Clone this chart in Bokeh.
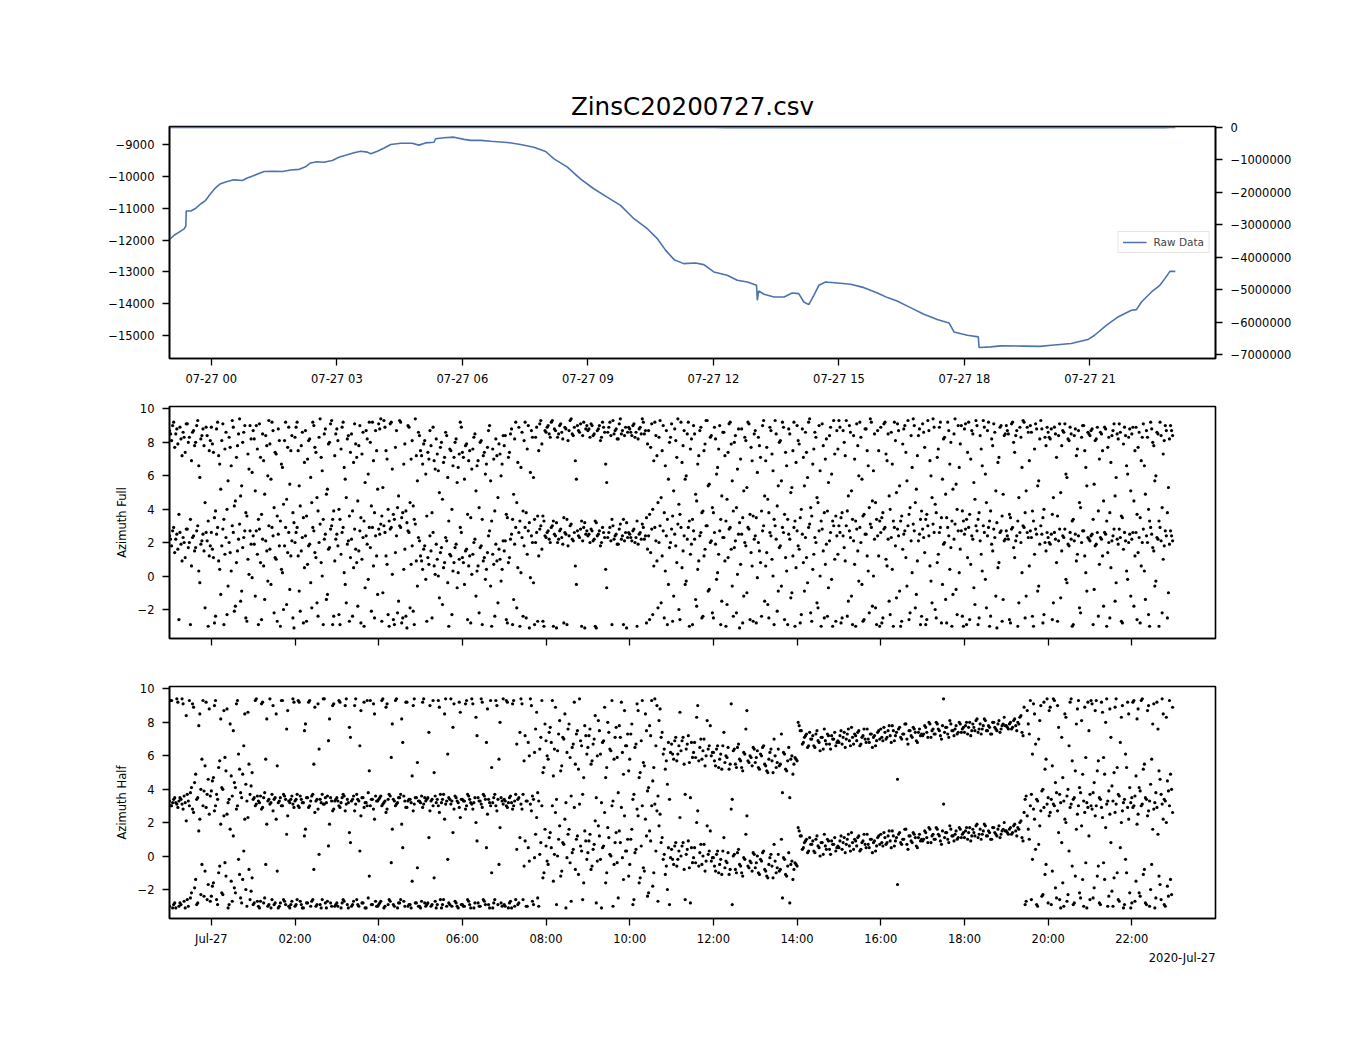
import numpy as np
from bokeh.plotting import figure
from bokeh.models import Range1d, LinearAxis, FixedTicker, Title
from bokeh.layouts import column
from bokeh.embed import file_html
from bokeh.resources import INLINE

# ---------------- data ----------------
TITLE = "ZinsC20200727.csv"
DATE_LABEL = "2020-Jul-27"
DAY0 = np.datetime64("2020-07-27T00:00:00")

# Raw data line: time in hours relative to 2020-07-27 00:00, value
raw_hours = [-1.01, -0.89, -0.77, -0.65, -0.61, -0.60, -0.49, -0.37, -0.25, -0.14,
             -0.02, 0.10, 0.22, 0.38, 0.54, 0.74, 0.86, 1.02, 1.26, 1.50,
             1.70, 1.90, 2.10, 2.25, 2.37, 2.53, 2.69, 2.89, 3.05, 3.21,
             3.41, 3.57, 3.73, 3.81, 3.97, 4.13, 4.29, 4.53, 4.80, 4.96,
             5.12, 5.32, 5.36, 5.56, 5.80, 6.04, 6.20, 6.44, 6.68, 6.91,
             7.07, 7.39, 7.71, 7.99, 8.19, 8.51, 8.82, 9.14, 9.46, 9.78,
             10.10, 10.42, 10.66, 10.86, 11.06, 11.29, 11.57, 11.77, 12.01, 12.33,
             12.57, 12.81, 13.03, 13.05, 13.08, 13.21, 13.45, 13.69, 13.88, 14.04,
             14.16, 14.28, 14.40, 14.52, 14.68, 14.96, 15.28, 15.60, 15.92, 16.16,
             16.39, 16.71, 17.03, 17.35, 17.63, 17.75, 18.07, 18.33, 18.35, 18.63,
             18.86, 19.40, 19.80, 20.08, 20.55, 20.95, 21.11, 21.39, 21.67, 21.99,
             22.11, 22.23, 22.47, 22.67, 22.79, 22.91, 23.04]
raw_values = [-12000, -11850, -11750, -11650, -11560, -11090, -11090, -11000, -10860, -10760,
              -10550, -10360, -10230, -10160, -10110, -10130, -10050, -9970, -9850, -9840,
              -9850, -9800, -9780, -9700, -9580, -9540, -9560, -9500, -9400, -9340,
              -9260, -9210, -9240, -9290, -9210, -9110, -9000, -8960, -8960, -9020,
              -8950, -8930, -8820, -8790, -8770, -8840, -8870, -8870, -8900, -8920,
              -8935, -9000, -9084, -9220, -9450, -9711, -10077, -10390, -10652, -10913,
              -11331, -11644, -11957, -12324, -12616, -12741, -12722, -12772, -13003, -13108,
              -13265, -13318, -13422, -13892, -13600, -13704, -13788, -13788, -13662, -13683,
              -13945, -14028, -13736, -13422, -13318, -13349, -13390, -13495, -13662, -13808,
              -13913, -14122, -14331, -14498, -14602, -14885, -14990, -15042, -15376, -15355,
              -15324, -15330, -15340, -15303, -15250, -15125, -14990, -14677, -14416, -14206,
              -14185, -13945, -13631, -13422, -13212, -12983, -12983]

# Azimuth samples (radians, -pi..pi) in 4-hour blocks.
# "a" lists are sampled every 3 minutes from the block start,
# "b" lists every 3 minutes starting 1.5 minutes later.
SAMPLE_STEP_H = 0.05
B_OFFSET_H = 0.025
BLOCK_STARTS_H = [-1, 3, 7, 11, 15, 19]

full_2300 = [2.4, 1.8, 2.9, 2.2, 1.6, 2.6, 0.9, 2.0, 2.8, 1.7, -2.9, 2.3, 1.5, 2.7, 0.3, 1.9, 2.5, -1.9, 2.1, 1.2,
             2.6, 1.1, -2.4, 2.9, 0.4, 1.8, -2.9, 2.3, -0.6, 1.4, 3.0, -2.1, 0.8, 2.2, -1.5, 1.7, 2.7, -2.7, 0.1, 1.9,
             2.4, -1.2, 1.3, 2.8, -2.6, 0.6, 2.1, -0.3, 1.6, 2.9, -2.2, 1.0, 2.5, -3.0, 0.2, 1.8, -1.7, 2.6, 1.2, -2.5,
             2.0, 2.9, -0.9, 1.5, -2.8, 2.4, 0.7, 1.9, -1.9, 2.7, 1.1, -2.4, 3.1, 0.0, 2.2, -1.4, 1.6, 2.8, -2.9, 0.9]
full_0300 = [2.5, -2.3, 1.3, 2.9, -0.5, 1.9, -2.7, 2.2, 0.5, 1.6, -1.8, 2.7, 1.0, -3.0, 2.4, -0.2, 1.7, 2.9, -2.5, 1.2,
             2.8, 3.1, -1.0, 2.6, 0.7, -3.0, 2.9, -2.6, 1.4, -2.2, 3.0, -2.8, 0.4, -2.4, 2.7, -1.9, 1.8, -2.9, 0.9, 2.3,
             1.2, 0.4, 1.8, -2.7, 0.7, 1.5, 2.6, 0.1, 1.0, -1.3, 1.7, 0.5, 2.3, -0.4, 1.3, -2.3, 0.8, 1.9, 0.2, 2.9,
             1.1, -0.5, 1.6, 0.6, -2.8, 1.3, 2.2, 0.3, -2.2, 1.8, 0.9, -0.2, 1.4, 2.7, -3.0, 0.7, 1.9, -1.6, 1.0, 0.4]
full_0700 = [1.5, -2.6, 0.8, 2.2, -2.9, 1.9, -1.9, 2.6, 0.2, -2.4, 2.9, 1.3, -3.1, 2.4, -0.4, 2.0, -2.7, 2.8, 1.6, -3.0,
             2.3, 2.7, 2.0, 3.0, 2.5, -3.1, 2.2, 2.8, 1.9, 2.6, -2.9, 2.4, 3.1, 2.1, 0.6, 2.7, 2.3, -3.0, 2.9, 2.5,
             2.4, 2.0, 2.7, 2.2, -3.1, 2.5, 1.8, 2.9, 2.3, -0.7, 2.6, 2.1, 3.0, 2.4, 1.9, 2.8, 2.2, -2.9, 2.6, 2.3,
             2.5, 2.1, 2.8, 2.3, 1.9, 2.6, 3.1, 2.2, -2.8, 2.4, 1.4, -2.3, 2.9, 0.9, 2.0, -1.6, 2.7, 0.3, -2.9, 1.7]
full_1100 = [2.8, -1.2, 1.8, 3.1, -2.6, 0.5, 2.4, -0.3, 2.9, 1.3, -2.9, 2.2, -1.8, 0.9, 2.6, -2.4, 1.6, 3.0, -0.8, 2.1,
             -2.5, 1.9, 0.2, 2.7, -1.5, 2.3, -3.0, 1.1, 2.9, -0.6, 1.7, -2.2, 2.5, 0.7, -2.8, 2.0, -1.0, 2.8, 1.4, -2.7,
             2.4, -0.1, 1.5, -2.4, 3.0, 0.6, -1.7, 2.6, 1.0, -2.9, 2.2, -0.9, 1.8, 2.9, -2.6, 0.3, 2.5, -1.3, 1.2, -3.0,
             2.7, 1.6, -2.3, 0.8, 2.3, -0.4, 3.1, -2.7, 1.3, 2.0, -1.9, 0.0, 2.8, -2.5, 1.9, -0.7, 2.6, -3.0, 1.0, 2.4]
full_1500 = [3.0, -2.8, 2.4, 0.9, -2.4, 2.7, -1.2, 2.1, -3.0, 1.5, 2.9, -0.5, -2.6, 2.5, 0.3, 3.1, -1.8, 2.2, -2.9, 1.2,
             2.6, -2.5, 2.9, 0.6, -1.5, 2.3, -3.0, 1.8, 2.8, -0.9, -2.7, 2.5, 1.1, 3.0, -2.2, 0.2, 2.7, -1.1, 2.1, -2.9,
             2.8, 1.4, -2.6, 2.4, -0.3, 3.1, -2.0, 0.8, 2.6, -2.8, 1.9, -1.4, 2.9, 0.4, -3.0, 2.2, -0.8, 2.7, 1.6, -2.4,
             2.5, -2.9, 2.9, 0.7, 2.2, -1.7, 2.7, -2.5, 1.3, 3.0, -0.2, 2.4, -3.0, 1.9, 2.8, -1.2, 0.5, 2.6, -2.7, 2.1]
full_1900 = [2.7, 2.2, -2.8, 2.9, 1.1, 2.4, -1.6, 2.0, 3.0, -2.5, 2.6, 0.6, 2.3, -3.0, 2.8, -0.9, 1.9, 2.5, -2.3, 1.5,
             2.3, 1.9, -2.6, 2.6, 0.8, 2.1, -1.3, 2.4, 2.8, -0.4, 1.8, 2.2, -2.9, 2.5, 1.3, -1.9, 2.0, 2.7, 0.2, 2.3,
             2.1, 2.5, -0.8, 1.9, -2.4, 2.3, 1.2, 2.6, -3.0, 2.0, 0.5, 2.4, -1.5, 2.2, 2.8, -2.7, 1.6, 2.1, -0.2, 2.5,
             2.2, -1.8, 2.6, 1.4, -2.8, 2.0, 0.3, 2.4, -2.3, 2.9, 1.7, -0.6, 2.3, -3.0, 2.1, 1.0, 2.7, -2.5, 1.9, 2.4]

full_2300b = [2.2, 2.7, 1.4, 2.5, -2.6, 1.9, 2.3, 1.1, 2.8, 2.0, 0.6, 2.4, 1.7, 3.0, -0.4, 2.1, 1.5, 2.6, -3.0, 1.8,
              1.6, -2.8, 2.5, 0.9, -1.1, 2.8, 1.3, -2.3, 2.0, 0.3, 2.6, -1.8, 1.5, 3.1, -0.9, 2.3, -2.5, 1.0, 2.7, -0.1,
              1.9, 2.7, -2.9, 0.8, 2.2, -1.4, 1.5, 3.0, -0.5, 2.4, 1.1, -2.7, 1.8, 0.4, -2.0, 2.9, 1.4, -0.8, 2.1, -3.1,
              2.6, 1.2, -2.1, 2.3, 0.5, -2.7, 1.8, -0.4, 2.9, 1.4, -1.6, 2.0, 0.8, -2.9, 2.5, -1.1, 1.7, 3.0, -2.4, 2.2]
full_0300b = [1.8, -2.9, 2.6, 0.2, -1.6, 2.1, 1.1, -2.4, 2.8, 0.8, 1.5, -2.8, 2.3, -0.7, 1.9, 2.9, -2.1, 0.6, 2.4, -1.1,
              2.5, -2.7, 3.0, 1.2, -2.3, 2.8, 0.1, -2.9, 2.4, -1.5, 2.9, -2.5, 1.6, -3.1, 2.6, 0.7, -2.1, 3.1, -0.6, 2.1,
              0.9, 1.6, -0.2, 1.1, 2.4, -2.5, 0.6, 1.9, 0.0, 1.4, -1.7, 0.8, 2.1, -3.0, 1.2, 0.3, 1.7, -0.7, 1.0, 2.6,
              0.8, 1.5, -2.6, 1.2, 0.1, 2.0, -1.2, 0.6, 1.7, -2.9, 1.1, 0.4, 2.4, -0.6, 1.3, -2.4, 0.9, 1.6, -0.3, 2.1]
full_0700b = [2.1, -2.8, 1.1, 2.5, -1.4, 2.9, 0.5, -3.0, 2.3, 1.8, -2.5, 2.7, -0.1, 2.0, -2.9, 2.6, 1.2, 3.0, -2.7, 2.4,
              2.6, 2.2, 2.9, -3.0, 2.4, 2.0, 2.7, 2.3, -2.8, 2.5, 1.8, 3.0, 2.2, 2.6, -0.5, 2.4, 2.8, 2.1, -3.1, 2.7,
              2.5, 2.8, 2.1, -3.0, 2.4, 2.7, 2.0, 2.6, 0.4, 2.3, 2.9, -2.9, 2.2, 2.5, 1.9, 3.1, 2.4, 2.1, -3.1, 2.6,
              2.3, 2.7, 2.0, -3.0, 2.5, 2.2, 2.9, 2.4, 1.6, -2.6, 2.8, 0.6, 2.1, -1.9, 3.0, 1.2, -2.5, 2.4, -0.5, 2.0]
full_1100b = [-2.7, 2.5, 0.8, -2.0, 2.9, 1.5, -0.5, 2.2, -3.0, 1.9, 2.7, -1.4, 0.4, 2.4, -2.5, 1.2, 3.0, -0.9, 2.0, -2.2,
              2.6, -0.2, 1.3, -2.9, 2.3, 0.9, -1.7, 2.8, 1.6, -2.4, 2.1, 0.1, -3.1, 2.5, -1.2, 1.8, 2.9, -2.6, 0.6, 2.2,
              -2.8, 2.0, 0.8, 2.7, -1.5, 1.4, -2.5, 2.4, 0.0, 3.0, -2.1, 1.7, -0.6, 2.6, 1.1, -2.9, 2.2, -1.0, 2.9, 0.5,
              1.8, -2.8, 2.5, -0.9, 1.1, 2.9, -2.2, 0.4, 2.3, -1.6, 2.7, -3.0, 1.5, 0.7, -2.4, 2.1, -0.2, 3.0, -2.7, 1.3]
full_1500b = [2.6, -2.5, 1.7, 3.0, -1.5, 2.3, -2.9, 0.7, 2.8, -0.3, 2.0, -2.7, 2.5, 1.2, -2.2, 2.9, 0.0, -1.9, 2.4, -3.0,
              -2.8, 2.8, 1.0, 2.2, -2.3, 0.4, 2.9, -1.3, 2.4, -3.0, 1.6, 2.7, -0.6, -2.6, 2.1, 3.1, -1.9, 0.9, 2.5, -2.4,
              2.3, -2.9, 3.0, 0.6, -1.6, 2.6, -2.5, 1.3, 2.9, -0.5, 2.0, -2.8, 2.4, 1.7, -1.1, 3.1, -2.3, 0.2, 2.7, -3.0,
              2.8, 1.1, -2.6, 2.4, -0.7, 3.0, -2.9, 2.1, 0.3, 2.6, -1.9, 2.9, -2.4, 1.5, 2.3, -3.1, 0.8, 2.7, -1.4, 2.2]
full_1900b = [2.4, -2.6, 2.8, 1.7, 2.1, -3.0, 2.6, 0.2, 2.9, -1.2, 2.3, 2.7, -2.4, 1.3, 2.5, -0.6, 3.0, -2.8, 2.0, 2.6,
              2.0, 2.5, -1.6, 2.2, -2.7, 2.8, 1.5, 2.3, -0.2, 1.9, 2.6, -3.0, 2.1, 0.9, 2.4, -2.2, 2.7, 1.2, -0.9, 2.2,
              2.4, -2.9, 1.8, 2.6, 0.7, 2.2, -1.8, 2.5, 1.4, -2.5, 2.1, 2.8, -0.4, 1.9, 2.3, -2.8, 2.6, 0.3, 2.0, -1.2,
              2.6, 1.2, -2.6, 2.3, 0.6, 2.8, -1.4, 2.0, -3.0, 2.5, 1.5, -0.3, 2.2, 2.9, -2.2, 1.8, 2.4, -1.0, 2.7, 2.1]

half_2300 = [-3.0, 3.0, -2.9, -3.1, 2.9, -2.8, 3.1, -2.7, 2.1, -3.0, -2.5, 2.8, -1.9, -2.9, 1.5, -2.3, 3.0, -0.9, -2.6, 2.5,
             -2.4, -1.6, 3.0, -2.9, -0.6, -2.2, 2.4, -1.2, -3.1, 1.6, -2.7, -1.9, 2.8, -0.2, -2.5, -1.4, 2.2, -3.0, -0.8, -2.1,
             -2.9, 3.0, -2.7, -3.1, 2.8, -2.8, -0.5, -3.0, 3.1, -2.6, -2.9, 2.2, -3.1, -2.8, 3.0, -2.7, 1.3, -3.0, -2.9, 3.1,
             -3.0, -2.6, 2.9, -2.9, -3.1, 1.6, -2.8, 3.0, -2.7, -0.8, -3.0, 2.8, -2.9, -2.6, 3.1, -3.1, 0.6, -2.8, 2.7, -3.0]
half_0300 = [-2.8, 3.0, -3.1, -2.6, 2.7, -2.9, 1.4, -3.0, -2.7, 3.1, -2.9, 0.3, -2.8, 2.9, -3.1, -2.5, 3.0, -2.9, 2.2, -3.0,
             -2.9, -2.7, 3.1, -3.0, 2.8, -2.6, -0.4, -2.9, 3.0, -3.1, -2.8, 1.9, -2.7, 2.9, -3.0, -2.9, -1.5, 3.1, -2.8, -3.0,
             -3.1, 2.9, -2.8, -2.9, 1.1, -3.0, 3.0, -2.7, -2.9, 2.6, -3.1, -2.6, 3.1, -0.2, -2.9, -3.0, 2.8, -2.8, -3.1, 2.3,
             -2.9, -3.0, 3.0, -2.7, -3.1, 2.8, -2.8, 0.9, -3.0, 3.1, -2.6, -2.9, 2.5, -3.1, -1.0, -2.8, 3.0, -2.9, 1.7, -3.0]
half_0700 = [-2.9, 3.0, -3.1, -2.7, 2.8, -3.0, 0.4, -2.8, 3.1, -2.6, 0.9, -3.0, -0.3, 2.7, -2.9, 1.3, -2.5, 0.1, 3.0, -1.0,
             0.6, -0.5, 1.4, 3.0, 0.1, -2.9, 1.0, -1.2, 0.8, 2.2, -0.1, 1.6, -2.7, 0.4, -0.8, 1.2, 3.1, 0.3, -1.6, 0.9,
             0.2, 1.3, -0.6, 0.7, -2.8, 1.8, -0.2, 0.5, 2.6, -1.0, 1.1, 0.0, -3.0, 0.8, -0.4, 1.5, 2.9, -1.4, 0.3, 1.0,
             -0.5, 1.6, -2.6, 0.4, 2.4, -1.3, 3.0, -0.9, 1.2, -2.2, 0.9, -1.8, 3.1, 2.7, 1.8, 0.8, -0.2, -1.1, -2.0, -2.9]
half_1100 = [0.4, -0.5, 0.8, -0.2, 2.3, 0.6, -0.8, 0.1, 0.9, -2.8, -0.4, 0.5, 2.0, -0.6, 0.7, 0.0, -0.9, 1.8, 0.3, -0.3,
             -0.1, -0.9, 0.3, -0.5, -1.1, 1.1, -0.3, 0.2, -0.8, -2.9, 0.1, -1.0, 0.4, -0.6, -1.2, -0.2, 2.4, -0.7, -0.4, 0.2,
             -0.7, 0.0, -1.1, -0.3, 0.3, -0.9, -1.3, -0.1, -0.6, 0.7, -1.0, 0.1, -0.8, -2.5, -0.2, -1.2, 0.2, -0.5, -1.4, -0.4,
             -0.6, 1.5, 1.2, 0.5, 0.9, 0.2, 1.1, 0.7, 0.3, 1.0, 0.6, 0.0, 0.8, 1.3, 0.4, 0.9, 0.1, 0.7, 1.1, 0.5]
half_1500 = [0.5, 1.2, 0.8, 0.2, 1.0, 0.6, 1.4, 0.4, 0.9, 1.1, 0.3, 0.8, 1.3, 0.5, 0.7, 1.0, 0.2, 0.9, 0.6, 1.2,
             1.3, 0.6, 1.1, 0.8, 1.5, 0.5, 1.2, 0.9, -1.7, 1.4, 0.7, 1.0, 1.6, 0.4, 1.2, 0.8, 1.3, 0.6, 1.1, 0.9,
             0.9, 1.5, 1.1, 1.7, 0.8, 1.3, 1.0, 1.6, 1.2, 0.7, 3.1, 1.4, 1.0, 1.8, 1.2, 0.9, 1.5, 1.1, 1.6, 1.3,
             1.1, 1.7, 1.4, 0.9, 1.6, 1.2, 1.9, 1.3, 1.0, 1.5, 1.8, 1.2, 1.4, 1.0, 1.7, 1.3, 1.6, 1.1, 1.5, 2.0]
half_1900 = [1.5, 1.3, 1.7, 1.4, 1.9, 1.2, 1.6, 2.1, 0.9, -2.9, 2.4, 1.0, -2.6, 2.8, 0.4, -3.0, 1.8, -2.4, 2.9, -0.5,
             -2.8, 2.6, -0.9, 3.0, -2.5, 1.4, -3.1, -1.6, 2.2, -2.7, 0.3, 3.1, -2.9, -1.2, 2.5, -2.2, 1.8, -3.0, -0.4, 2.9,
             -2.6, 2.8, -1.9, 3.0, -0.6, -2.9, 2.3, -1.4, 3.1, -2.4, 0.8, -3.0, 2.6, -1.0, -2.7, 2.0, -3.1, -0.2, 2.9, -2.2,
             -2.8, 3.0, -1.5, 2.5, -2.4, 3.1, -0.8, -2.9, 2.7, -2.0, 1.6, -3.1, 2.9, -1.2, -2.6, 2.2, -3.0, -1.8, 3.0, -2.3]

half_2300b = [3.0, -3.1, -2.8, 3.1, -3.0, -2.9, 2.8, -3.1, -2.6, 3.0, -2.2, 2.6, -1.4, -2.8, 2.2, -0.5, -2.4, 2.9, -1.7, -2.7,
              -1.8, 2.7, -2.6, -1.0, 1.9, -2.3, -0.4, 2.5, -2.9, -1.5, 1.2, -2.2, 3.0, -1.1, -2.8, 0.3, -2.0, 2.3, -2.6, -1.3,
              -2.8, 3.1, -3.0, -2.7, 2.9, -2.5, 1.9, -2.9, -3.1, 2.7, -2.8, -0.9, -3.0, 3.0, -2.6, -2.9, 2.4, -3.1, -2.7, 2.9,
              -2.9, 3.0, -2.7, -3.1, 1.2, -2.8, 2.9, -3.0, -2.6, 2.6, -2.9, 0.1, -3.1, 3.1, -2.8, -2.7, 1.9, -3.0, 2.8, -2.9]
half_0300b = [-3.0, 2.9, -2.8, -2.7, 3.1, -3.1, 0.8, -2.9, 2.7, -2.6, -3.0, 2.4, -2.8, -3.1, 3.0, -1.2, -2.9, 2.8, -2.7, -3.0,
              -2.8, 3.0, -3.1, 2.6, -2.9, -2.7, 1.6, -3.0, 3.1, -2.8, -2.6, 0.5, -3.0, 2.9, -2.9, -3.1, 2.7, -2.8, -0.7, -3.0,
              -2.7, 3.1, -3.0, -2.8, 2.7, -2.9, -1.3, -3.1, 3.0, -2.6, -2.9, 2.2, -3.0, -2.8, 3.1, 1.4, -2.7, -3.0, 2.9, -2.9,
              -3.0, 2.8, -2.6, -2.9, 3.1, -3.1, 2.0, -2.8, -3.0, 2.9, -2.7, 0.5, -2.9, 3.0, -3.1, -2.6, 2.7, -0.5, -2.8, 3.1]
half_0700b = [-3.0, 2.9, -2.8, -3.1, 3.0, -2.6, -2.9, 1.1, 2.8, -0.6, -3.0, 0.5, 3.1, -2.7, -0.1, 2.3, -3.0, 0.8, -1.3, 1.6,
              -0.3, 1.1, 0.5, -1.5, 2.6, 0.0, 1.8, -0.9, 0.7, -3.1, 1.3, -0.4, 0.2, 2.9, 1.0, -1.1, 0.6, -2.6, 1.5, -0.2,
              0.9, -0.8, 0.4, 2.1, -0.3, 1.2, -3.1, 0.6, -1.6, 1.7, 0.1, 3.0, -0.5, 1.4, -2.5, 0.8, -0.1, 2.4, 0.3, -1.2,
              1.0, -2.9, 0.2, 2.8, -1.6, 0.6, -0.7, 2.2, -2.4, 1.5, 3.0, -1.0, 0.3, -2.7, 2.5, 1.1, 0.1, -0.6, 0.5, -0.1]
half_1100b = [-0.2, 0.6, -0.6, 0.3, 0.0, 0.8, -2.6, 0.4, -0.7, 0.5, -0.1, -0.4, 2.7, 0.2, -0.5, 0.7, -0.3, 0.1, 1.5, -0.1,
              -0.6, 0.1, -1.0, -0.2, 0.3, -0.7, -0.4, -1.1, 2.8, 0.0, -0.8, 0.2, -0.5, -1.0, -0.1, 1.3, -0.6, -0.3, -0.9, 0.1,
              -0.4, -1.0, -0.2, 0.2, -0.8, -1.2, -0.5, 0.1, -1.3, -0.3, -0.7, -0.9, 1.0, -0.1, -1.1, -0.6, -2.8, -0.3, -0.8, -0.5,
              1.7, 1.2, 0.4, 0.8, 1.0, 0.3, 0.7, 0.9, 0.2, 1.2, 0.5, 0.8, 0.1, 0.6, 1.0, 0.4, 0.9, 0.7, 0.3, 0.6]
half_1500b = [0.9, 0.4, 1.1, 0.7, 1.3, 0.3, 0.8, 1.0, 0.6, 1.2, 0.4, 0.9, 0.7, 1.3, 0.5, 1.0, 0.8, 0.3, 1.1, 0.7,
              0.8, 1.4, 0.7, 1.2, 0.9, 1.5, 0.6, 1.1, 1.3, 0.8, 1.0, 1.6, 0.7, 1.2, 0.9, 1.4, 1.1, 0.5, 1.3, 1.0,
              1.0, 1.4, 0.8, 1.6, 1.2, 1.0, 1.7, 1.3, 0.9, 1.5, 1.1, 1.4, 0.8, 1.6, 1.2, 1.3, 1.0, 1.7, 1.1, 1.4,
              1.5, 1.0, 1.7, 1.2, 1.4, 1.8, 1.1, 1.6, 1.3, 1.9, 1.2, 1.5, 1.0, 1.7, 1.4, 1.2, 1.8, 1.3, 1.6, 1.5]
half_1900b = [1.4, 1.6, 1.3, 1.8, 1.5, 1.7, 2.0, 1.1, 2.6, -2.7, 1.6, 3.0, -0.2, 2.2, -2.9, 0.7, 2.7, -2.3, -1.1, 3.1,
              2.4, -2.9, 3.1, -1.9, 2.7, -2.6, 0.8, -3.0, 2.0, -2.3, 2.9, -0.6, -2.8, 1.6, 3.0, -2.5, -1.4, 2.6, -3.1, 1.2,
              3.0, -2.5, 2.4, -1.2, -2.8, 2.9, -0.4, 1.7, -3.0, 2.5, -2.1, -1.3, 3.1, -2.6, 0.5, 2.7, -2.9, -1.0, 2.2, -3.1,
              2.9, -2.7, 1.9, -2.2, 3.0, -1.1, -2.8, 2.4, -3.0, -0.5, 2.8, -2.5, 1.3, -1.7, 3.1, -2.9, 2.0, -2.4, -1.4, 2.6]

full_blocks_a = [full_2300, full_0300, full_0700, full_1100, full_1500, full_1900]
full_blocks_b = [full_2300b, full_0300b, full_0700b, full_1100b, full_1500b, full_1900b]
half_blocks_a = [half_2300, half_0300, half_0700, half_1100, half_1500, half_1900]
half_blocks_b = [half_2300b, half_0300b, half_0700b, half_1100b, half_1500b, half_1900b]

top_tick_hours = [0, 3, 6, 9, 12, 15, 18, 21]
bottom_tick_hours = [0, 2, 4, 6, 8, 10, 12, 14, 16, 18, 20, 22]
left_ticks = [-15000, -14000, -13000, -12000, -11000, -10000, -9000]
right_ticks = [0, -1000000, -2000000, -3000000, -4000000, -5000000, -6000000, -7000000]
az_ticks = [-2, 0, 2, 4, 6, 8, 10]

# ---------------- helpers ----------------
BASE_MS = int(DAY0.astype("datetime64[ms]").astype(np.int64))
HOUR_MS = 3600000


def to_ms(hours):
    return BASE_MS + np.asarray(hours, dtype=float) * HOUR_MS


def tick_ms(h):
    return int(BASE_MS + h * HOUR_MS)


def minus(v):
    return str(v).replace("-", "\u2212")


def azimuth_points(blocks_a, blocks_b):
    xs, ys = [], []
    for offset, blocks in ((0.0, blocks_a), (B_OFFSET_H, blocks_b)):
        for start, vals in zip(BLOCK_STARTS_H, blocks):
            th = np.asarray(vals, dtype=float)
            hrs = start + offset + np.arange(len(th)) * SAMPLE_STEP_H
            xs.append(hrs); ys.append(th)
            xs.append(hrs); ys.append(th + 2 * np.pi)
    return to_ms(np.concatenate(xs)), np.concatenate(ys)


FONT = "DejaVu Sans"
TICK_FS = "11.5px"
X_RANGE = (tick_ms(-1.0), tick_ms(24.0))
W = 1340
LEFT = 169
RIGHT = W - LEFT - 1046


def style(p):
    p.xgrid.visible = False
    p.ygrid.visible = False
    p.outline_line_color = "black"
    p.outline_line_width = 1.6
    p.outline_line_alpha = 1.0
    p.background_fill_color = "white"
    p.border_fill_color = "white"
    for ax in p.axis:
        ax.axis_line_width = 1.6
        ax.axis_line_color = "black"
        ax.major_tick_out = 7
        ax.major_tick_in = 0
        ax.major_tick_line_width = 1.3
        ax.minor_tick_out = 0
        ax.minor_tick_in = 0
        ax.major_label_text_font = FONT
        ax.major_label_text_font_size = TICK_FS
        ax.major_label_text_color = "black"
        ax.axis_label_text_font = FONT
        ax.axis_label_text_font_size = TICK_FS
        ax.axis_label_text_font_style = "normal"
        ax.axis_label_text_color = "black"


# ---------------- top panel ----------------
p1 = figure(width=W, height=388, x_axis_type="datetime",
            x_range=Range1d(*X_RANGE), y_range=Range1d(-15720, -8435),
            output_backend="svg", toolbar_location=None,
            min_border_left=LEFT, min_border_right=RIGHT,
            min_border_top=126, min_border_bottom=30)
p1.extra_y_ranges = {"right": Range1d(-7123000, 20000)}
rx = to_ms(raw_hours)
p1.line(rx, raw_values, line_color="#4c72b0", line_width=1.6, legend_label="Raw Data")
p1.line(rx, raw_values, line_color="#4c72b0", line_width=1.6, y_range_name="right")
right_axis = LinearAxis(y_range_name="right", ticker=FixedTicker(ticks=right_ticks),
                        major_label_overrides={t: minus(t) for t in right_ticks})
p1.add_layout(right_axis, "right")

p1.xaxis.ticker = FixedTicker(ticks=[tick_ms(h) for h in top_tick_hours])
p1.xaxis.major_label_overrides = {tick_ms(h): "07-27 %02d" % h for h in top_tick_hours}
p1.yaxis[0].ticker = FixedTicker(ticks=left_ticks)
p1.yaxis[0].major_label_overrides = {t: minus(t) for t in left_ticks}

p1.title.text = TITLE
p1.title.align = "center"
p1.title.text_font = FONT
p1.title.text_font_size = "24.6px"
p1.title.text_font_style = "normal"
p1.title.text_color = "black"
p1.title.standoff = 12
style(p1)
for ax in p1.xaxis:
    ax.major_label_standoff = 6
for ax in p1.yaxis:
    ax.major_label_standoff = 8

lg = p1.legend[0]
lg.location = "right"
lg.margin = 6
lg.padding = 4
lg.spacing = 0
lg.border_line_color = "#cccccc"
lg.border_line_width = 1
lg.background_fill_alpha = 0.8
lg.label_text_font = FONT
lg.label_text_font_size = "10.5px"
lg.glyph_width = 24
lg.glyph_height = 10
lg.label_standoff = 7
lg.label_height = 10


# ---------------- azimuth panels ----------------
def az_panel(blocks_a, blocks_b, label, height, top, bottom, show_labels):
    p = figure(width=W, height=height, x_axis_type="datetime",
               x_range=p1.x_range, y_range=Range1d(-3.73, 10.12),
               output_backend="svg", toolbar_location=None,
               min_border_left=LEFT, min_border_right=RIGHT,
               min_border_top=top, min_border_bottom=bottom)
    x, y = azimuth_points(blocks_a, blocks_b)
    p.scatter(x, y, size=3.2, color="black", line_width=0)
    ticks = [tick_ms(h) for h in bottom_tick_hours]
    p.xaxis.ticker = FixedTicker(ticks=ticks)
    if show_labels:
        p.xaxis.major_label_overrides = {tick_ms(h): ("Jul-27" if h == 0 else "%02d:00" % h)
                                         for h in bottom_tick_hours}
    else:
        p.xaxis.major_label_overrides = {t: "" for t in ticks}
    p.yaxis.ticker = FixedTicker(ticks=az_ticks)
    p.yaxis.major_label_overrides = {t: minus(t) for t in az_ticks}
    p.yaxis.axis_label = label
    style(p)
    p.xaxis.major_label_standoff = 6
    p.yaxis.major_label_standoff = 8
    p.yaxis.axis_label_standoff = 6
    return p


p2 = az_panel(full_blocks_a, full_blocks_b, "Azimuth Full", 280, 18, 30, False)
p3 = az_panel(half_blocks_a, half_blocks_b, "Azimuth Half", 310, 18, 60, True)
p3.add_layout(Title(text=DATE_LABEL, align="right", text_font=FONT, text_font_size=TICK_FS,
                    text_font_style="normal", text_color="black", standoff=0), "below")

layout = column(p1, p2, p3, spacing=0)
open("out.html", "w").write(file_html(layout, INLINE))
